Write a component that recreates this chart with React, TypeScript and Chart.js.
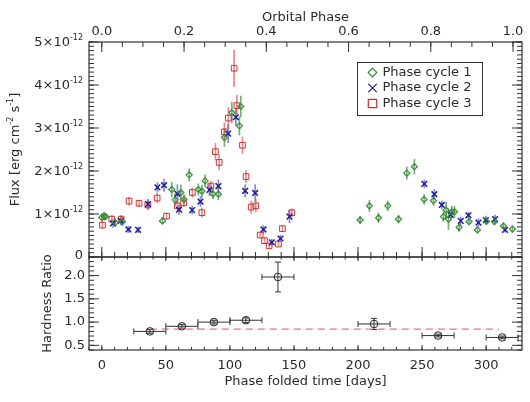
import { useEffect, useRef } from "react";
import { Chart, registerables } from "chart.js";

Chart.register(...registerables);

// ---------- axis settings ----------
const PERIOD_DAYS = 321;
const DAY_MIN = -10;
const DAY_MAX = 328;
const FLUX_MIN = 0;
const FLUX_MAX = 5; // in units of 1e-12 erg cm^-2 s^-1
const HR_MIN = 0.4;
const HR_MAX = 2.4;

const dayTickValues = [0, 50, 100, 150, 200, 250, 300];
const phaseTickValues = [0, 0.2, 0.4, 0.6, 0.8, 1.0];
const fluxTickValues = [0, 1, 2, 3, 4, 5];
const hrTickValues = [0.5, 1.0, 1.5, 2.0];

// ---------- data (flux in 1e-12 erg cm^-2 s^-1) ----------
const cycle1Days = [0, 1.8, 3, 10.4, 16.1, 47.3, 54.6, 57.2, 61.7, 64.2, 68.2, 75.4, 78.1, 80.6, 86.7, 91, 95.7, 101.5, 107.4, 108.5, 201.6, 208.9, 216, 223.2, 231.6, 238.1, 244, 251.6, 258.9, 266.7, 268.8, 270.6, 273.2, 275.3, 278.9, 286.7, 293.2, 300.2, 306.5, 313.5, 320.5];
const cycle1Flux = [0.92, 0.95, 0.94, 0.80, 0.82, 0.84, 1.57, 1.33, 1.50, 1.34, 1.91, 1.57, 1.53, 1.77, 1.47, 1.46, 2.78, 3.36, 3.05, 3.50, 0.86, 1.19, 0.91, 1.19, 0.88, 1.95, 2.10, 1.34, 1.31, 0.94, 1.09, 0.88, 1.05, 1.05, 0.69, 0.82, 0.63, 0.83, 0.82, 0.72, 0.65];
const cycle1Err = [0.10, 0.10, 0.08, 0.10, 0.10, 0.08, 0.18, 0.15, 0.18, 0.12, 0.15, 0.14, 0.15, 0.15, 0.12, 0.14, 0.22, 0.25, 0.22, 0.25, 0.10, 0.14, 0.12, 0.12, 0.10, 0.15, 0.18, 0.12, 0.12, 0.12, 0.20, 0.25, 0.14, 0.14, 0.10, 0.08, 0.08, 0.08, 0.08, 0.08, 0.08];

const cycle2Days = [8.8, 14.8, 20.8, 28.3, 36.1, 43.4, 48.6, 59, 60.3, 70.5, 77, 84, 91, 98.6, 104.6, 111.9, 119.7, 126.2, 132.7, 139.5, 146.5, 251.8, 259.6, 265.4, 272.4, 280.2, 286.2, 294, 299.8, 307, 314.8];
const cycle2Flux = [0.78, 0.84, 0.64, 0.63, 1.23, 1.62, 1.67, 1.47, 1.10, 1.09, 1.29, 1.56, 1.65, 2.87, 3.25, 1.54, 1.49, 0.64, 0.34, 0.43, 0.94, 1.70, 1.46, 1.21, 0.98, 0.84, 0.97, 0.80, 0.86, 0.88, 0.63];
const cycle2Err = [0.10, 0.10, 0.08, 0.08, 0.12, 0.12, 0.15, 0.22, 0.12, 0.10, 0.12, 0.14, 0.15, 0.22, 0.20, 0.15, 0.20, 0.10, 0.08, 0.08, 0.15, 0.10, 0.12, 0.10, 0.10, 0.10, 0.08, 0.10, 0.10, 0.10, 0.06];

const cycle3Days = [0.5, 7.8, 15.1, 21.3, 29.1, 35.9, 43.2, 50.5, 59, 63.9, 70.7, 78.1, 85.1, 88.7, 91.6, 95.7, 98.8, 103.3, 105.4, 109.8, 112.6, 116.6, 120.2, 123.6, 127, 130.6, 137.9, 141, 148.3];
const cycle3Flux = [0.74, 0.88, 0.88, 1.30, 1.25, 1.21, 1.37, 0.95, 1.19, 1.26, 1.50, 1.03, 1.65, 2.45, 2.20, 2.91, 3.23, 4.39, 3.52, 2.60, 1.87, 1.16, 1.19, 0.51, 0.38, 0.26, 0.30, 0.66, 1.03];
const cycle3Err = [0.08, 0.10, 0.10, 0.10, 0.08, 0.12, 0.12, 0.08, 0.10, 0.10, 0.12, 0.12, 0.12, 0.20, 0.18, 0.22, 0.25, 0.43, 0.25, 0.20, 0.15, 0.15, 0.15, 0.06, 0.08, 0.05, 0.05, 0.06, 0.10];

const hrDays = [37.5, 62.5, 87.5, 112.5, 137.5, 212.5, 262.5, 312.5];
const hrValues = [0.80, 0.91, 1.00, 1.04, 1.97, 0.96, 0.71, 0.67];
const hrYErr = [0.04, 0.04, 0.04, 0.05, 0.32, 0.12, 0.03, 0.03];
const hrXErr = [12.5, 12.5, 12.5, 12.5, 12.5, 12.5, 12.5, 12.5];
const hrMean = 0.85;
const hrMeanSpan = [37.5, 310];

const seriesLabels = ["Phase cycle 1", "Phase cycle 2", "Phase cycle 3"];

// ---------- styles ----------
const FONT = "'DejaVu Sans', sans-serif";
const TXT = "#2a2a2a";
const AXIS = "#333";
const GREEN = "#3a8a3a";
const BLUE = "#1c1c9c";
const RED = "#c83434";
const GREEN_ERR = "rgba(70,150,70,0.75)";
const BLUE_ERR = "rgba(70,70,200,0.65)";
const RED_ERR = "rgba(210,80,80,0.65)";

const fluxSeries = [
  { days: cycle1Days, flux: cycle1Flux, err: cycle1Err, color: GREEN, errColor: GREEN_ERR, style: "rectRot", radius: 3, bw: 1.2 },
  { days: cycle2Days, flux: cycle2Flux, err: cycle2Err, color: BLUE, errColor: BLUE_ERR, style: "crossRot", radius: 4, bw: 1.5 },
  { days: cycle3Days, flux: cycle3Flux, err: cycle3Err, color: RED, errColor: RED_ERR, style: "rect", radius: 4, bw: 1 },
];

function line(ctx: CanvasRenderingContext2D, x1: number, y1: number, x2: number, y2: number) {
  ctx.beginPath();
  ctx.moveTo(x1, y1);
  ctx.lineTo(x2, y2);
  ctx.stroke();
}

function range(a: number, b: number, step: number) {
  const out: number[] = [];
  const n = Math.round((b - a) / step);
  for (let i = 0; i <= n; i++) out.push(+(a + i * step).toFixed(6));
  return out;
}

function drawMarker(ctx: CanvasRenderingContext2D, kind: string, x: number, y: number, s: number, color: string) {
  ctx.strokeStyle = color;
  ctx.lineWidth = 1.2;
  ctx.beginPath();
  if (kind === "diamond") {
    ctx.moveTo(x, y - s); ctx.lineTo(x + s, y); ctx.lineTo(x, y + s); ctx.lineTo(x - s, y); ctx.closePath();
  } else if (kind === "x") {
    ctx.moveTo(x - s, y - s); ctx.lineTo(x + s, y + s); ctx.moveTo(x + s, y - s); ctx.lineTo(x - s, y + s);
  } else {
    ctx.rect(x - s, y - s, 2 * s, 2 * s);
  }
  ctx.stroke();
}

function drawRich(ctx: CanvasRenderingContext2D, parts: { t: string; sup?: boolean }[], cx: number, cy: number) {
  const main = `13px ${FONT}`;
  const sup = `8px ${FONT}`;
  let total = 0;
  const widths = parts.map((p) => {
    ctx.font = p.sup ? sup : main;
    const w = ctx.measureText(p.t).width;
    total += w;
    return w;
  });
  let x = cx - total / 2;
  ctx.textAlign = "left";
  ctx.textBaseline = "middle";
  parts.forEach((p, i) => {
    ctx.font = p.sup ? sup : main;
    ctx.fillText(p.t, x, p.sup ? cy - 5 : cy);
    x += widths[i];
  });
}

function panel(scale: any, lo: number, hi: number) {
  return { top: scale.getPixelForValue(hi), bottom: scale.getPixelForValue(lo) };
}

const idlPlugin = {
  id: "idlAxes",
  beforeDatasetsDraw(chart: any) {
    const ctx: CanvasRenderingContext2D = chart.ctx;
    const xs = chart.scales.x;
    const ys = chart.scales.y;
    const yh = chart.scales.yH;
    ctx.save();
    // flux error bars
    fluxSeries.forEach((s) => {
      ctx.strokeStyle = s.errColor;
      ctx.lineWidth = 1.7;
      s.days.forEach((d, i) => {
        const px = xs.getPixelForValue(d);
        line(ctx, px, ys.getPixelForValue(s.flux[i] - s.err[i]), px, ys.getPixelForValue(s.flux[i] + s.err[i]));
      });
    });
    // hardness error bars
    ctx.strokeStyle = "#333";
    ctx.lineWidth = 1;
    hrDays.forEach((d, i) => {
      const px = xs.getPixelForValue(d);
      const py = yh.getPixelForValue(hrValues[i]);
      const xl = xs.getPixelForValue(d - hrXErr[i]);
      const xr = xs.getPixelForValue(d + hrXErr[i]);
      const yt = yh.getPixelForValue(hrValues[i] + hrYErr[i]);
      const yb = yh.getPixelForValue(hrValues[i] - hrYErr[i]);
      line(ctx, xl, py, xr, py);
      line(ctx, xl, py - 3, xl, py + 3);
      line(ctx, xr, py - 3, xr, py + 3);
      line(ctx, px, yt, px, yb);
      line(ctx, px - 3, yt, px + 3, yt);
      line(ctx, px - 3, yb, px + 3, yb);
    });
    ctx.restore();
  },
  afterDatasetsDraw(chart: any) {
    const ctx: CanvasRenderingContext2D = chart.ctx;
    const xs = chart.scales.x;
    const xt = chart.scales.xTop;
    const ys = chart.scales.y;
    const yh = chart.scales.yH;
    const L = xs.getPixelForValue(DAY_MIN);
    const R = xs.getPixelForValue(DAY_MAX);
    const pF = panel(ys, FLUX_MIN, FLUX_MAX);
    const pH = panel(yh, HR_MIN, HR_MAX);
    ctx.save();
    ctx.strokeStyle = AXIS;
    ctx.lineWidth = 1.2;
    // frames
    ctx.strokeRect(L, pF.top, R - L, pF.bottom - pF.top);
    ctx.strokeRect(L, pH.top, R - L, pH.bottom - pH.top);

    ctx.lineWidth = 1;
    const hT = (scale: any, vals: number[], y: number, dir: number, len: number) => {
      vals.forEach((v) => {
        const px = scale.getPixelForValue(v);
        if (px < L - 0.5 || px > R + 0.5) return;
        line(ctx, px, y, px, y + dir * len);
      });
    };
    const vT = (scale: any, p: { top: number; bottom: number }, vals: number[], len: number) => {
      vals.forEach((v) => {
        const py = scale.getPixelForValue(v);
        if (py < p.top - 0.5 || py > p.bottom + 0.5) return;
        line(ctx, L, py, L + len, py);
        line(ctx, R, py, R - len, py);
      });
    };
    // flux panel
    vT(ys, pF, range(FLUX_MIN, FLUX_MAX, 0.1), 5);
    vT(ys, pF, fluxTickValues, 10);
    hT(xt, range(0, 1.0, 0.05), pF.top, 1, 5);
    hT(xt, phaseTickValues, pF.top, 1, 10);
    hT(xs, range(-10, 320, 10), pF.bottom, -1, 5);
    hT(xs, dayTickValues, pF.bottom, -1, 10);
    // hardness panel
    vT(yh, pH, range(HR_MIN, HR_MAX, 0.1), 5);
    vT(yh, pH, hrTickValues, 10);
    hT(xs, range(-10, 320, 10), pH.top, 1, 2.5);
    hT(xs, dayTickValues, pH.top, 1, 4);
    hT(xs, range(-10, 320, 10), pH.bottom, -1, 3);
    hT(xs, dayTickValues, pH.bottom, -1, 5);

    // tick labels
    ctx.fillStyle = TXT;
    ctx.font = `13px ${FONT}`;
    ctx.textAlign = "center";
    ctx.textBaseline = "middle";
    dayTickValues.forEach((v) => ctx.fillText(String(v), xs.getPixelForValue(v), pH.bottom + 16));
    phaseTickValues.forEach((v) => ctx.fillText(v.toFixed(1), xt.getPixelForValue(v), pF.top - 10));
    ctx.textAlign = "right";
    hrTickValues.forEach((v) => ctx.fillText(v.toFixed(1), L - 4, yh.getPixelForValue(v)));
    fluxTickValues.forEach((v) => {
      const py = ys.getPixelForValue(v);
      if (v === 0) {
        ctx.font = `13px ${FONT}`;
        ctx.textAlign = "right";
        ctx.fillText("0", L - 6, py - 1);
        return;
      }
      ctx.font = `8px ${FONT}`;
      const ws = ctx.measureText("-12").width;
      ctx.textAlign = "right";
      ctx.fillText("-12", L - 6, py - 4);
      ctx.font = `13px ${FONT}`;
      ctx.fillText(`${v}\u00d710`, L - 6 - ws, py + 1);
    });

    // axis titles
    ctx.font = `13px ${FONT}`;
    ctx.textAlign = "center";
    ctx.textBaseline = "middle";
    ctx.fillText("Orbital Phase", (L + R) / 2, 18);
    ctx.fillText("Phase folded time [days]", (L + R) / 2, pH.bottom + 32);
    ctx.save();
    ctx.translate(16, (pF.top + pF.bottom) / 2);
    ctx.rotate(-Math.PI / 2);
    drawRich(ctx, [{ t: "Flux [erg cm" }, { t: "-2", sup: true }, { t: " s" }, { t: "-1", sup: true }, { t: "]" }], 0, 0);
    ctx.restore();
    ctx.save();
    ctx.translate(48, (pH.top + pH.bottom) / 2);
    ctx.rotate(-Math.PI / 2);
    ctx.font = `13px ${FONT}`;
    ctx.textAlign = "center";
    ctx.fillText("Hardness Ratio", 0, 0);
    ctx.restore();

    // legend
    const bx = 357, by = 62, bw = 125, bh = 53;
    ctx.fillStyle = "#fff";
    ctx.fillRect(bx, by, bw, bh);
    ctx.strokeStyle = AXIS;
    ctx.lineWidth = 1;
    ctx.strokeRect(bx + 0.5, by + 0.5, bw, bh);
    const kinds = ["diamond", "x", "square"];
    const colors = [GREEN, BLUE, RED];
    seriesLabels.forEach((lab, i) => {
      const yy = by + 10.5 + i * 15.5;
      drawMarker(ctx, kinds[i], bx + 15.5, yy, kinds[i] === "diamond" ? 4.3 : 4.2, colors[i]);
      ctx.fillStyle = TXT;
      ctx.font = `13px ${FONT}`;
      ctx.textAlign = "left";
      ctx.textBaseline = "middle";
      ctx.fillText(lab, bx + 25.5, yy);
    });
    ctx.restore();
  },
};

export default function App() {
  const ref = useRef<HTMLCanvasElement>(null);
  useEffect(() => {
    const canvas = ref.current;
    if (!canvas) return;
    const datasets: any[] = fluxSeries.map((s, k) => ({
      label: seriesLabels[k],
      data: s.days.map((d, i) => ({ x: d, y: s.flux[i] })),
      xAxisID: "x",
      yAxisID: "y",
      pointStyle: s.style,
      pointRadius: s.radius,
      pointBorderWidth: s.bw,
      borderColor: s.color,
      backgroundColor: "rgba(0,0,0,0)",
      showLine: false,
    }));
    datasets.push({
      label: "Hardness Ratio",
      data: hrDays.map((d, i) => ({ x: d, y: hrValues[i] })),
      xAxisID: "x",
      yAxisID: "yH",
      pointStyle: "circle",
      pointRadius: 3.8,
      pointBorderWidth: 1,
      borderColor: "#222",
      backgroundColor: "rgba(0,0,0,0)",
      showLine: false,
    });
    datasets.push({
      type: "line",
      label: "Mean hardness",
      data: hrMeanSpan.map((d) => ({ x: d, y: hrMean })),
      xAxisID: "x",
      yAxisID: "yH",
      borderColor: "rgba(240,90,90,0.85)",
      borderWidth: 1.2,
      borderDash: [7, 5],
      pointRadius: 0,
      showLine: true,
    });

    const chart = new Chart(canvas, {
      type: "scatter",
      data: { datasets },
      options: {
        animation: false,
        responsive: false,
        events: [],
        layout: { padding: { left: 0, right: 8, top: 0, bottom: 0 } },
        plugins: { legend: { display: false }, tooltip: { enabled: false } },
        scales: {
          x: {
            type: "linear",
            position: "bottom",
            min: DAY_MIN,
            max: DAY_MAX,
            grid: { display: false },
            border: { display: false },
            ticks: { display: false },
            afterFit: (s: any) => { s.height = 52; },
          },
          xTop: {
            type: "linear",
            axis: "x",
            position: "top",
            min: DAY_MIN / PERIOD_DAYS,
            max: DAY_MAX / PERIOD_DAYS,
            grid: { display: false },
            border: { display: false },
            ticks: { display: false },
            afterFit: (s: any) => { s.height = 42; },
          },
          yH: {
            type: "linear",
            position: "left",
            stack: "panels",
            stackWeight: 93,
            min: HR_MIN,
            max: HR_MAX,
            grid: { display: false },
            border: { display: false },
            ticks: { display: false },
            afterFit: (s: any) => { s.width = 89; },
          },
          y: {
            type: "linear",
            position: "left",
            stack: "panels",
            stackWeight: 215,
            min: FLUX_MIN,
            max: FLUX_MAX,
            grid: { display: false },
            border: { display: false },
            ticks: { display: false },
            afterFit: (s: any) => { s.width = 89; },
          },
        },
      } as any,
      plugins: [idlPlugin],
    });
    return () => chart.destroy();
  }, []);
  return (
    <div style={{ position: "fixed", left: 0, top: 0, width: 530, height: 402, background: "#fff" }}>
      <canvas ref={ref} width={530} height={402} style={{ display: "block" }} />
    </div>
  );
}
